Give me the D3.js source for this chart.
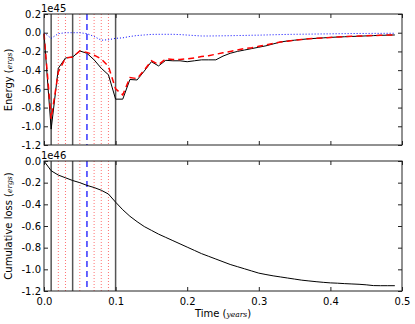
<!DOCTYPE html>
<html>
<head>
<meta charset="utf-8">
<script src="https://cdn.jsdelivr.net/npm/d3@7"></script>
<style>
  body { margin: 0; background: #fff; }
  text { font-family: "DejaVu Sans", sans-serif; fill: #000; }
</style>
</head>
<body>
<svg id="chart" width="415" height="324"></svg>
<script>
// time samples (years)
const times = [0.00, 0.01, 0.02, 0.03, 0.04, 0.05, 0.06, 0.07, 0.08, 0.09,
               0.10, 0.11, 0.12, 0.13, 0.14, 0.15, 0.16, 0.17, 0.18, 0.19,
               0.20, 0.21, 0.22, 0.23, 0.24, 0.25, 0.26, 0.27, 0.28, 0.29,
               0.30, 0.31, 0.32, 0.33, 0.34, 0.35, 0.36, 0.37, 0.38, 0.39,
               0.40, 0.41, 0.42, 0.43, 0.44, 0.45, 0.46, 0.47, 0.48, 0.49];

// energy, units of 1e45 ergs
const energyTotal = [-0.01, -1.03, -0.38, -0.27, -0.26, -0.195, -0.22, -0.29, -0.38, -0.45,
                     -0.71, -0.71, -0.50, -0.505, -0.41, -0.31, -0.355, -0.295, -0.30, -0.30,
                     -0.31, -0.30, -0.29, -0.29, -0.29, -0.25, -0.22, -0.20, -0.185, -0.17,
                     -0.155, -0.14, -0.12, -0.10, -0.088, -0.08, -0.072, -0.065, -0.06, -0.055,
                     -0.05, -0.046, -0.043, -0.04, -0.037, -0.034, -0.031, -0.028, -0.026, -0.024];

const energyModel = [-0.01, -0.92, -0.42, -0.27, -0.26, -0.195, -0.21, -0.24, -0.28, -0.36,
                     -0.60, -0.665, -0.48, -0.49, -0.40, -0.30, -0.34, -0.28, -0.285, -0.285,
                     -0.28, -0.27, -0.255, -0.245, -0.23, -0.215, -0.20, -0.185, -0.17, -0.16,
                     -0.145, -0.13, -0.115, -0.10, -0.09, -0.08, -0.072, -0.065, -0.06, -0.055,
                     -0.05, -0.046, -0.042, -0.039, -0.036, -0.033, -0.030, -0.027, -0.025, -0.023];

const energyOther = [0.0, -0.06, -0.01, 0.0, 0.0, 0.0, -0.01, -0.04, -0.08, -0.075,
                     -0.06, -0.055, -0.04, -0.03, -0.024, -0.018, -0.017, -0.017, -0.017, -0.02,
                     -0.025, -0.03, -0.035, -0.035, -0.034, -0.033, -0.032, -0.03, -0.029, -0.027,
                     -0.026, -0.024, -0.022, -0.02, -0.018, -0.017, -0.016, -0.015, -0.014, -0.013,
                     -0.012, -0.011, -0.010, -0.009, -0.008, -0.008, -0.007, -0.007, -0.006, -0.006];

// cumulative loss, units of 1e46 ergs
const cumulativeLoss = [0.0, -0.09, -0.13, -0.155, -0.18, -0.20, -0.225, -0.245, -0.27, -0.305,
                        -0.38, -0.45, -0.51, -0.56, -0.605, -0.64, -0.675, -0.705, -0.735, -0.765,
                        -0.795, -0.825, -0.855, -0.88, -0.905, -0.93, -0.955, -0.975, -0.995, -1.015,
                        -1.035, -1.048, -1.06, -1.07, -1.08, -1.09, -1.10, -1.107, -1.114, -1.12,
                        -1.125, -1.128, -1.132, -1.135, -1.138, -1.143, -1.15, -1.151, -1.151, -1.151];

// event markers
const solidMarks = [0.01, 0.04, 0.10];
const dashedMarks = [0.06];
const dottedMarks = [0.02, 0.03, 0.05, 0.07, 0.08, 0.09];

// ticks
const xTicks = [0.0, 0.1, 0.2, 0.3, 0.4, 0.5];
const xTickLabels = ["0.0", "0.1", "0.2", "0.3", "0.4", "0.5"];
const topTicks = [0.2, 0.0, -0.2, -0.4, -0.6, -0.8, -1.0, -1.2];
const topTickLabels = ["0.2", "0.0", "-0.2", "-0.4", "-0.6", "-0.8", "-1.0", "-1.2"];
const bottomTicks = [0.0, -0.2, -0.4, -0.6, -0.8, -1.0, -1.2];
const bottomTickLabels = ["0.0", "-0.2", "-0.4", "-0.6", "-0.8", "-1.0", "-1.2"];

let svg = d3.select("#chart");

let left = 44, right = 402;
let x = d3.scaleLinear().domain([0, 0.5]).range([left, right]);

function drawPanel(top, bottom, yDomain, yTicks, yLabels, offsetText, showX) {
    let y = d3.scaleLinear().domain(yDomain).range([bottom, top]);
    let g = svg.append("g");

    // vertical marker lines
    g.selectAll(".dotted").data(dottedMarks).enter().append("line")
        .attr("x1", d => x(d)).attr("x2", d => x(d))
        .attr("y1", top).attr("y2", bottom)
        .attr("stroke", "red").attr("stroke-width", 1)
        .attr("stroke-dasharray", "1,2").attr("opacity", 0.55);
    g.selectAll(".solid").data(solidMarks).enter().append("line")
        .attr("x1", d => x(d)).attr("x2", d => x(d))
        .attr("y1", top).attr("y2", bottom)
        .attr("stroke", "#555").attr("stroke-width", 1.5);
    g.selectAll(".dashed").data(dashedMarks).enter().append("line")
        .attr("x1", d => x(d)).attr("x2", d => x(d))
        .attr("y1", top).attr("y2", bottom)
        .attr("stroke", "blue").attr("stroke-width", 1.2)
        .attr("stroke-dasharray", "6,4");

    // axes: ticks inward on all four sides
    let xb = d3.axisBottom(x).tickValues(xTicks).tickSizeInner(-4).tickSizeOuter(0)
        .tickFormat((d, i) => showX ? xTickLabels[i] : "");
    let xt = d3.axisTop(x).tickValues(xTicks).tickSizeInner(-4).tickSizeOuter(0).tickFormat("");
    let yl = d3.axisLeft(y).tickValues(yTicks).tickSizeInner(-4).tickSizeOuter(0)
        .tickFormat((d, i) => yLabels[i]);
    let yr = d3.axisRight(y).tickValues(yTicks).tickSizeInner(-4).tickSizeOuter(0).tickFormat("");

    [[xb, `translate(0,${bottom})`], [xt, `translate(0,${top})`],
     [yl, `translate(${left},0)`], [yr, `translate(${right},0)`]].forEach(([ax, tr]) => {
        let a = g.append("g").attr("transform", tr).call(ax);
        a.select(".domain").remove();
        a.selectAll("line").attr("stroke", "#222");
        a.selectAll("text").style("font-family", "DejaVu Sans").style("font-size", "10px").attr("fill", "#000");
    });
    g.selectAll(".tick text").filter(function() { return this.parentNode.parentNode.getAttribute("transform") === `translate(${left},0)`; })
        .attr("x", -3);
    if (showX) {
        g.selectAll(".tick text").filter(function() { return this.parentNode.parentNode.getAttribute("transform") === `translate(0,${bottom})`; })
            .attr("y", 7);
    }

    // offset text
    g.append("text").attr("x", left - 3).attr("y", top - 2)
        .style("font-size", "10px").text(offsetText);

    return {g: g, y: y};
}

function addSeries(panel, values, color, width, dash) {
    let line = d3.line().x((d, i) => x(times[i])).y(d => panel.y(d));
    panel.g.append("path").datum(values)
        .attr("d", line).attr("fill", "none")
        .attr("stroke", color).attr("stroke-width", width)
        .attr("stroke-dasharray", dash);
}

let topPanel = drawPanel(14, 145, [-1.2, 0.2], topTicks, topTickLabels, "1e45", false);
addSeries(topPanel, energyOther, "blue", 1, "1,2");
addSeries(topPanel, energyTotal, "black", 1, null);
addSeries(topPanel, energyModel, "red", 1.5, "6,4");

let bottomPanel = drawPanel(161, 291, [-1.2, 0.0], bottomTicks, bottomTickLabels, "1e46", true);
addSeries(bottomPanel, cumulativeLoss, "black", 1, null);

// frames on top of everything
[[14, 145], [161, 291]].forEach(([t, b]) => {
    svg.append("rect").attr("x", left).attr("y", t)
        .attr("width", right - left).attr("height", b - t)
        .attr("fill", "none").attr("stroke", "#222").attr("stroke-width", 1);
});

// axis labels with math-style units
function label(xp, yp, rot, main, unit) {
    let t = svg.append("text")
        .attr("transform", `translate(${xp},${yp}) rotate(${rot})`)
        .attr("text-anchor", "middle").style("font-size", "10px");
    t.append("tspan").text(main + " (");
    t.append("tspan").style("font-family", "DejaVu Serif").style("font-style", "italic")
        .style("font-size", "7.5px").text(unit);
    t.append("tspan").text(")");
}
label(12, 80, -90, "Energy", "ergs");
label(12, 226, -90, "Cumulative loss", "ergs");
label(223, 317, 0, "Time", "years");
</script>
</body>
</html>
